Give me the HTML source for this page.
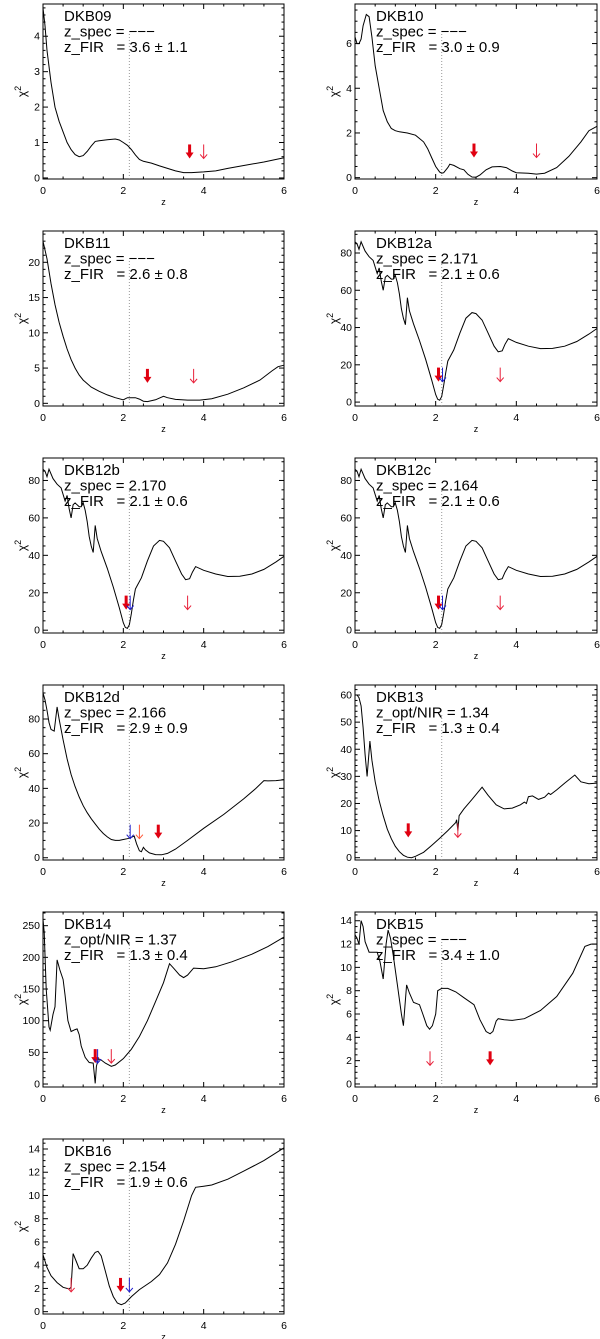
<!DOCTYPE html>
<html><head><meta charset="utf-8">
<style>
html,body{margin:0;padding:0;background:#fff;}
svg{display:block;font-family:"Liberation Sans",sans-serif;}
</style></head>
<body>
<svg id="fig" width="600" height="1339" viewBox="0 0 600 1339"></svg>
<script>
// ---- data ----
const dkb09_z = [0,0.05,0.1,0.2,0.3,0.4,0.5,0.6,0.7,0.8,0.9,1.0,1.1,1.2,1.3,1.4,1.6,1.8,1.9,2.0,2.1,2.2,2.3,2.4,2.5,2.7,2.9,3.1,3.3,3.5,3.7,4.0,4.3,4.6,5.0,5.5,6.0];
const dkb09_chi2 = [4.8,4.3,3.6,2.7,2.0,1.6,1.3,1.0,0.8,0.66,0.6,0.63,0.75,0.9,1.03,1.05,1.08,1.1,1.07,1.0,0.92,0.8,0.65,0.52,0.47,0.42,0.34,0.27,0.2,0.15,0.15,0.17,0.2,0.27,0.35,0.45,0.57];
const dkb10_z = [0,0.05,0.1,0.15,0.2,0.28,0.35,0.42,0.5,0.6,0.7,0.8,0.9,1.0,1.1,1.3,1.5,1.7,1.8,1.9,2.0,2.1,2.15,2.2,2.3,2.35,2.45,2.6,2.7,2.8,2.9,3.0,3.1,3.25,3.4,3.6,3.75,3.9,4.0,4.3,4.5,4.7,5.0,5.3,5.6,5.8,6.0];
const dkb10_chi2 = [6.3,6.0,6.0,6.2,6.8,7.3,7.2,6.3,5.0,4.0,3.0,2.5,2.2,2.1,2.05,2.0,1.9,1.6,1.3,0.9,0.5,0.25,0.2,0.22,0.45,0.6,0.55,0.4,0.35,0.15,0.03,0.02,0.12,0.35,0.48,0.5,0.45,0.3,0.22,0.2,0.16,0.2,0.45,0.95,1.6,2.1,2.3];
const dkb11_z = [0,0.1,0.2,0.3,0.4,0.5,0.6,0.7,0.8,0.9,1.0,1.2,1.4,1.6,1.8,2.0,2.1,2.3,2.4,2.5,2.6,2.8,3.0,3.1,3.3,3.6,3.9,4.2,4.6,5.0,5.4,5.7,5.85,6.0];
const dkb11_chi2 = [23,20.5,17,14,11.5,9.5,7.7,6.2,5.0,4.0,3.3,2.3,1.7,1.2,0.8,0.5,0.8,0.8,0.6,0.3,0.25,0.5,1.0,0.8,0.55,0.45,0.45,0.65,1.3,2.2,3.3,4.6,5.2,5.4];
const dkb12_z = [0,0.05,0.1,0.15,0.25,0.35,0.45,0.55,0.6,0.65,0.7,0.75,0.8,0.85,0.9,0.95,1.0,1.05,1.1,1.15,1.2,1.25,1.3,1.35,1.45,1.6,1.75,1.9,2.0,2.05,2.1,2.15,2.2,2.25,2.3,2.35,2.45,2.6,2.75,2.9,3.0,3.15,3.3,3.45,3.55,3.65,3.72,3.8,4.0,4.3,4.6,4.9,5.2,5.5,5.8,6.0];
const dkb12_chi2 = [86,85,82,86,81,78,76,69,72,65,60,67,68,67,66,66,68,64,58,50,45,41.5,56,49,42,33,23,12,4,1.5,1,3,9,16,22,24,28,37,45,48,47.5,44,37,30,27,27.5,31,34,32,30,28.7,28.8,30,32.5,36.5,39.5];
const dkb12d_z = [0,0.05,0.1,0.15,0.2,0.28,0.35,0.4,0.5,0.6,0.7,0.8,0.9,1.0,1.1,1.2,1.3,1.4,1.5,1.6,1.7,1.8,1.9,2.0,2.1,2.2,2.27,2.33,2.4,2.45,2.5,2.55,2.65,2.8,2.95,3.1,3.3,3.6,4.0,4.5,5.0,5.3,5.5,5.6,5.8,6.0];
const dkb12d_chi2 = [95,91,85,78,74,73,87,80,68,57,48,41,35,30,26,22.5,19.5,16.5,14,12,10.5,10,10,10.5,11,11.8,12.5,8,4,3.5,6,4.5,2.8,1.8,1.7,2.5,5,10,17,25,34,40,44.5,44.3,44.5,45];
const dkb13_z = [0,0.05,0.1,0.15,0.2,0.25,0.3,0.37,0.42,0.5,0.6,0.7,0.8,0.9,1.0,1.1,1.2,1.3,1.4,1.5,1.7,1.9,2.1,2.3,2.5,2.52,2.55,2.58,2.7,2.9,3.15,3.3,3.5,3.7,3.9,4.1,4.2,4.25,4.3,4.4,4.55,4.7,4.8,4.85,5.0,5.2,5.45,5.6,5.8,6.0];
const dkb13_chi2 = [60,60,59,56,48,38,30,43,36,28,21,15.5,10.5,7,4.2,2.2,0.9,0.2,0,0.5,2,4.5,7.2,10,13,14,10,15.5,18,21.5,26,23,19.5,18,18.3,19.5,20.5,20,22.5,22.8,21.5,22.3,23.8,23.3,25,27.5,30.5,28,27.3,27.5];
const dkb14_z = [0,0.03,0.08,0.15,0.18,0.25,0.3,0.35,0.42,0.5,0.55,0.62,0.7,0.8,0.85,0.9,0.95,1.05,1.15,1.25,1.3,1.33,1.38,1.45,1.55,1.7,1.8,2.0,2.2,2.4,2.6,2.8,3.0,3.15,3.25,3.4,3.5,3.6,3.75,4.0,4.3,4.7,5.2,5.6,6.0];
const dkb14_chi2 = [260,240,150,90,85,110,122,196,180,165,140,100,83,86,87,78,60,42,34,33,1,28,40,38,33,28,30,40,55,75,100,130,160,190,183,172,168,172,183,182,185,193,205,217,232];
const dkb15_z = [0,0.05,0.1,0.15,0.2,0.25,0.35,0.55,0.62,0.7,0.77,0.82,0.88,0.95,1.05,1.15,1.2,1.28,1.35,1.45,1.6,1.68,1.78,1.85,1.92,2.0,2.05,2.15,2.3,2.5,2.7,2.95,3.1,3.25,3.35,3.42,3.5,3.55,3.7,3.9,4.2,4.6,5.0,5.4,5.7,5.85,6.0];
const dkb15_chi2 = [12.8,12.5,12,14,13.5,12.2,11.3,11.3,10.5,9,12,13.2,12.5,11,8.5,6,5,8.5,7.8,7,6.8,6,5,4.7,5,6,8,8.2,8.2,7.9,7.4,6.8,5.5,4.5,4.3,4.5,5.4,5.6,5.5,5.45,5.6,6.3,7.5,9.5,11.8,12,12];
const dkb16_z = [0,0.1,0.2,0.35,0.5,0.65,0.7,0.75,0.82,0.9,1.0,1.1,1.2,1.3,1.37,1.45,1.55,1.65,1.75,1.85,1.95,2.05,2.2,2.4,2.7,2.9,3.1,3.3,3.5,3.7,3.8,4.0,4.2,4.6,5.0,5.5,6.0];
const dkb16_chi2 = [4.9,3.8,3.1,2.5,2.1,1.95,2.1,5.0,4.4,3.7,3.7,4.0,4.6,5.1,5.2,4.8,3.5,2.2,1.3,0.75,0.6,0.75,1.3,1.9,2.6,3.2,4.2,5.8,7.8,10,10.7,10.8,10.9,11.4,12.1,13,14.1];

// arrows: z position, tip value, kind (T=thick red, R=thin red, O=thin orange, B=thin blue)
const dkb09_arrowZ=[3.65,4.0], dkb09_arrowY=[0.55,0.55], dkb09_arrowK=["T","R"];
const dkb10_arrowZ=[2.95,4.5], dkb10_arrowY=[0.9,0.9], dkb10_arrowK=["T","R"];
const dkb11_arrowZ=[2.6,3.75], dkb11_arrowY=[2.9,2.9], dkb11_arrowK=["T","R"];
const dkb12_arrowZ=[2.07,2.17,3.6], dkb12_arrowY=[11,11,11], dkb12_arrowK=["T","B","R"];
const dkb12d_arrowZ=[2.17,2.4,2.87], dkb12d_arrowY=[11,11,11], dkb12d_arrowK=["B","O","T"];
const dkb13_arrowZ=[1.32,2.55], dkb13_arrowY=[7.5,7.5], dkb13_arrowK=["T","R"];
const dkb14_arrowZ=[1.3,1.36,1.7], dkb14_arrowY=[33,33,33], dkb14_arrowK=["T","B","R"];
const dkb15_arrowZ=[1.86,3.35], dkb15_arrowY=[1.6,1.6], dkb15_arrowK=["R","T"];
const dkb16_arrowZ=[0.7,1.93,2.15], dkb16_arrowY=[1.7,1.7,1.7], dkb16_arrowK=["R","T","B"];

const panelNames=["DKB09","DKB10","DKB11","DKB12a","DKB12b","DKB12c","DKB12d","DKB13","DKB14","DKB15","DKB16"];
const panelLine2=["z_spec = −−−","z_spec = −−−","z_spec = −−−","z_spec = 2.171","z_spec = 2.170","z_spec = 2.164","z_spec = 2.166","z_opt/NIR = 1.34","z_opt/NIR = 1.37","z_spec = −−−","z_spec = 2.154"];
const panelLine3=["z_FIR   = 3.6 ± 1.1","z_FIR   = 3.0 ± 0.9","z_FIR   = 2.6 ± 0.8","z_FIR   = 2.1 ± 0.6","z_FIR   = 2.1 ± 0.6","z_FIR   = 2.1 ± 0.6","z_FIR   = 2.9 ± 0.9","z_FIR   = 1.3 ± 0.4","z_FIR   = 1.3 ± 0.4","z_FIR   = 3.4 ± 1.0","z_FIR   = 1.9 ± 0.6"];
const panelYmin=[-0.03,-0.06,-0.38,-2.1,-1.5,-1.5,-1.3,-0.85,-4.7,-0.26,-0.2];
const panelYmax=[4.91,7.77,24.44,91.8,92,92,99.6,63.7,271.6,14.75,14.86];
const panelYstep=[1,2,5,20,20,20,20,10,50,2,2];
const panelYtop=[4,6,20,80,80,80,80,60,250,14,14];
const xTicks=[0,2,4,6];
const zRef=2.15;

const curvesZ=[dkb09_z,dkb10_z,dkb11_z,dkb12_z,dkb12_z,dkb12_z,dkb12d_z,dkb13_z,dkb14_z,dkb15_z,dkb16_z];
const curvesY=[dkb09_chi2,dkb10_chi2,dkb11_chi2,dkb12_chi2,dkb12_chi2,dkb12_chi2,dkb12d_chi2,dkb13_chi2,dkb14_chi2,dkb15_chi2,dkb16_chi2];
const arrZ=[dkb09_arrowZ,dkb10_arrowZ,dkb11_arrowZ,dkb12_arrowZ,dkb12_arrowZ,dkb12_arrowZ,dkb12d_arrowZ,dkb13_arrowZ,dkb14_arrowZ,dkb15_arrowZ,dkb16_arrowZ];
const arrY=[dkb09_arrowY,dkb10_arrowY,dkb11_arrowY,dkb12_arrowY,dkb12_arrowY,dkb12_arrowY,dkb12d_arrowY,dkb13_arrowY,dkb14_arrowY,dkb15_arrowY,dkb16_arrowY];
const arrK=[dkb09_arrowK,dkb10_arrowK,dkb11_arrowK,dkb12_arrowK,dkb12_arrowK,dkb12_arrowK,dkb12d_arrowK,dkb13_arrowK,dkb14_arrowK,dkb15_arrowK,dkb16_arrowK];

// ---- drawing ----
const NS="http://www.w3.org/2000/svg";
const svg=document.getElementById("fig");
function mk(tag,attrs,parent){const e=document.createElementNS(NS,tag);for(const k in attrs)e.setAttribute(k,attrs[k]);(parent||svg).appendChild(e);return e;}

panelNames.forEach((name,i)=>{
  const col=i%2, row=Math.floor(i/2);
  const L=col===0?43:355, R=col===0?284:597;
  const T=4+row*227, B=T+175;
  const ymin=panelYmin[i], ymax=panelYmax[i];
  const X=z=>L+(z-0)/(6-0)*(R-L);
  const Y=v=>B-(v-ymin)/(ymax-ymin)*(B-T);
  const g=mk("g",{});
  
  

  const fr=mk("rect",{x:L,y:T,width:R-L,height:B-T,fill:"none",stroke:"#000","stroke-width":1},g);
  
  

  for(let z=0;z<=6.001;z+=0.5){
    const major=Math.abs(z/2-Math.round(z/2))<1e-6;
    const len=major?5:2.5, x=X(z);
    mk("line",{x1:x,y1:B,x2:x,y2:B-len,stroke:"#000","stroke-width":1},g);
    mk("line",{x1:x,y1:T,x2:x,y2:T+len,stroke:"#000","stroke-width":1},g);
  }
  xTicks.forEach(t=>{
    const tl=mk("text",{x:X(t),y:B+15,"font-size":10.5,"text-anchor":"middle"},g);
    tl.textContent=t;
    
    
  });
  const xl=mk("text",{x:(L+R)/2,y:B+26,"font-size":9,"text-anchor":"middle"},g);
  xl.textContent="z";
  
  

  const step=panelYstep[i], minorN=(step===2||step===20)?4:5;
  for(let v=0;v<=ymax+1e-9;v+=step/minorN){
    if(v<ymin) continue;
    const k=Math.round(v/(step/minorN));
    const major=k%minorN===0, len=major?5:2.5, y=Y(v);
    mk("line",{x1:L,y1:y,x2:L+len,y2:y,stroke:"#000","stroke-width":1},g);
    mk("line",{x1:R,y1:y,x2:R-len,y2:y,stroke:"#000","stroke-width":1},g);
  }
  for(let v=0;v<=panelYtop[i]+1e-9;v+=step){
    const tl=mk("text",{x:L-3,y:Y(v)+3.5,"font-size":10.5,"text-anchor":"end"},g);
    tl.textContent=v;
    
    
  }
  const yl=mk("text",{x:0,y:0,"font-size":12,"text-anchor":"middle",transform:`translate(${L-17},${(T+B)/2}) rotate(-90)`},g);
  yl.innerHTML='χ<tspan dy="-5" font-size="9">2</tspan>';
  
  

  const rl=mk("line",{x1:X(zRef),y1:B,x2:X(zRef),y2:T+28,stroke:"#999","stroke-width":1,"stroke-dasharray":"1,2"},g);
  
  

  const zs=curvesZ[i], ys=curvesY[i];
  let d="";
  zs.forEach((z,j)=>{d+=(j?"L":"M")+X(z).toFixed(1)+","+Y(ys[j]).toFixed(1);});
  const cv=mk("path",{d:d,fill:"none",stroke:"#000","stroke-width":1},g);
  
  

  arrZ[i].forEach((z,j)=>{
    const k=arrK[i][j], x=X(z), tip=Y(arrY[i][j]), top=tip-14;
    const col=k==="B"?"#1a1acc":(k==="O"?"#ff5533":(k==="R"?"#e8203a":"#e00010"));
    const a=mk("g",{},g);
    
    
    if(k==="T"){
      mk("line",{x1:x,y1:top,x2:x,y2:tip-5,stroke:col,"stroke-width":3},a);
      mk("path",{d:`M${x-4},${tip-6}L${x+4},${tip-6}L${x},${tip}Z`,fill:col},a);
    } else {
      mk("line",{x1:x,y1:top,x2:x,y2:tip,stroke:col,"stroke-width":1},a);
      mk("path",{d:`M${x-3.5},${tip-4}L${x},${tip}L${x+3.5},${tip-4}`,fill:"none",stroke:col,"stroke-width":1},a);
    }
  });

  const tx=col===0?64:376;
  [name,panelLine2[i],panelLine3[i]].forEach((s,j)=>{
    const t=mk("text",{x:tx,y:T+17+j*15.5,"font-size":15,style:"white-space:pre"},g);
    t.textContent=s;
    
    
  });
});
</script>
</body></html>
